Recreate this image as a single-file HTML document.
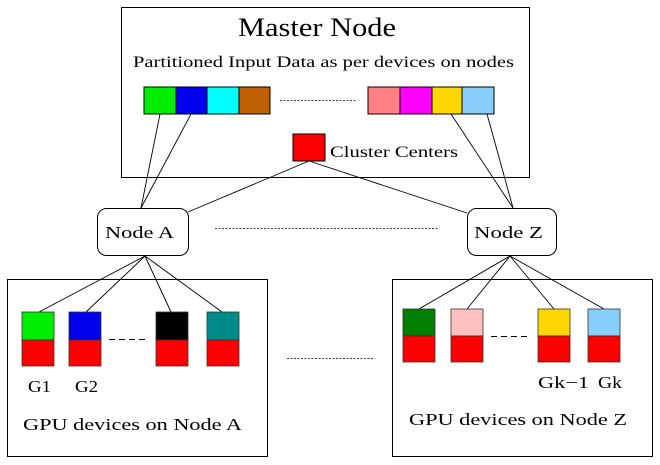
<!DOCTYPE html>
<html><head><meta charset="utf-8"><style>
html,body{margin:0;padding:0;background:#fff;}
svg{display:block;}
svg text{font-family:"Liberation Serif","DejaVu Serif","Times New Roman",Times,serif !important;fill:#000;}
</style></head><body>
<svg width="660" height="465" viewBox="0 0 660 465" xmlns="http://www.w3.org/2000/svg" font-family="Liberation Serif, DejaVu Serif, serif">
<rect x="0" y="0" width="660" height="465" fill="#fff"/>
<rect x="121.5" y="7.5" width="408" height="170" fill="none" stroke="#000" stroke-width="1"/>
<text x="238" y="36" font-size="26" textLength="158" lengthAdjust="spacingAndGlyphs">Master Node</text>
<text x="133" y="67" font-size="15.5" textLength="381" lengthAdjust="spacingAndGlyphs">Partitioned Input Data as per devices on nodes</text>
<g stroke="#000" stroke-width="1">
<rect x="144" y="87" width="32" height="27" fill="#00ee00"/>
<rect x="176" y="87" width="31" height="27" fill="#0000ee"/>
<rect x="207" y="87" width="32" height="27" fill="#00ffff"/>
<rect x="239" y="87" width="31" height="27" fill="#c06000"/>
<rect x="368" y="87" width="32" height="27" fill="#ff8080"/>
<rect x="400" y="87" width="32" height="27" fill="#ff00ff"/>
<rect x="432" y="87" width="30" height="27" fill="#ffd700"/>
<rect x="462" y="87" width="32" height="27" fill="#87cefa"/>
<rect x="293" y="134" width="32" height="27" fill="#ff0000"/>
</g>
<line x1="280" y1="100.5" x2="356" y2="100.5" stroke="#000" stroke-dasharray="2,1.5" stroke-width="0.8"/>
<text x="330" y="157" font-size="16" textLength="128" lengthAdjust="spacingAndGlyphs">Cluster Centers</text>
<g stroke="#000" stroke-width="0.9" fill="none">
<line x1="141" y1="208" x2="160" y2="114"/>
<line x1="141" y1="208" x2="191" y2="114"/>
<line x1="188" y1="212" x2="309" y2="161"/>
<line x1="309" y1="161" x2="467" y2="213"/>
<line x1="513" y1="208" x2="451" y2="114"/>
<line x1="513" y1="208" x2="487" y2="114"/>
</g>
<rect x="97.5" y="208.5" width="91" height="47" rx="9" fill="#fff" stroke="#000"/>
<rect x="467.5" y="208.5" width="89" height="47" rx="9" fill="#fff" stroke="#000"/>
<text x="105" y="238" font-size="17" textLength="69" lengthAdjust="spacingAndGlyphs">Node A</text>
<text x="474" y="238" font-size="17" textLength="69" lengthAdjust="spacingAndGlyphs">Node Z</text>
<line x1="215" y1="228.5" x2="438" y2="228.5" stroke="#000" stroke-dasharray="2,1.5" stroke-width="0.8"/>
<rect x="7.5" y="279.5" width="260" height="177" fill="none" stroke="#000"/>
<rect x="392.5" y="279.5" width="260" height="177" fill="none" stroke="#000"/>
<g stroke="#000" stroke-width="0.9">
<line x1="145" y1="256" x2="39" y2="312"/>
<line x1="145" y1="256" x2="86" y2="312"/>
<line x1="145" y1="256" x2="171" y2="312"/>
<line x1="145" y1="256" x2="222" y2="312"/>
<line x1="510" y1="256" x2="419" y2="309"/>
<line x1="510" y1="256" x2="467" y2="309"/>
<line x1="510" y1="256" x2="554" y2="309"/>
<line x1="510" y1="256" x2="604" y2="309"/>
</g>
<g stroke="#333" stroke-width="0.8">
<rect x="22" y="312" width="32" height="28" fill="#00ee00"/>
<rect x="22" y="340" width="32" height="26" fill="#ff0000"/>
<rect x="69" y="312" width="32" height="28" fill="#0000ee"/>
<rect x="69" y="340" width="32" height="26" fill="#ff0000"/>
<rect x="156" y="312" width="32" height="28" fill="#000"/>
<rect x="156" y="340" width="32" height="26" fill="#ff0000"/>
<rect x="207" y="312" width="32" height="28" fill="#008b8b"/>
<rect x="207" y="340" width="32" height="26" fill="#ff0000"/>
<rect x="403" y="309" width="32" height="27" fill="#008000"/>
<rect x="403" y="336" width="32" height="26" fill="#ff0000"/>
<rect x="451" y="309" width="32" height="27" fill="#ffc0c0"/>
<rect x="451" y="336" width="32" height="26" fill="#ff0000"/>
<rect x="538" y="309" width="32" height="27" fill="#ffd700"/>
<rect x="538" y="336" width="32" height="26" fill="#ff0000"/>
<rect x="588" y="309" width="32" height="27" fill="#87cefa"/>
<rect x="588" y="336" width="32" height="26" fill="#ff0000"/>
</g>
<line x1="109" y1="339.5" x2="147" y2="339.5" stroke="#000" stroke-dasharray="6,4"/>
<line x1="491" y1="336.5" x2="527" y2="336.5" stroke="#000" stroke-dasharray="6,4"/>
<line x1="287" y1="358.5" x2="375" y2="358.5" stroke="#000" stroke-dasharray="2,1.5" stroke-width="0.8"/>
<text x="28" y="392" font-size="17" textLength="23" lengthAdjust="spacingAndGlyphs">G1</text>
<text x="75" y="392" font-size="17" textLength="23" lengthAdjust="spacingAndGlyphs">G2</text>
<text x="538" y="388" font-size="17" textLength="51" lengthAdjust="spacingAndGlyphs">Gk−1</text>
<text x="598" y="388" font-size="17" textLength="24" lengthAdjust="spacingAndGlyphs">Gk</text>
<text x="23" y="430" font-size="17" textLength="219" lengthAdjust="spacingAndGlyphs">GPU devices on Node A</text>
<text x="409" y="425" font-size="17" textLength="218" lengthAdjust="spacingAndGlyphs">GPU devices on Node Z</text>
</svg>
</body></html>
